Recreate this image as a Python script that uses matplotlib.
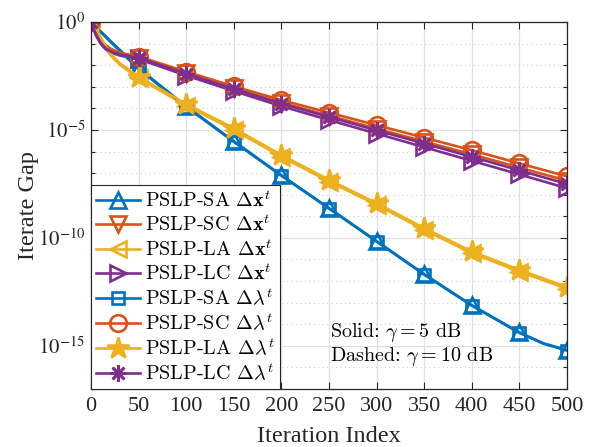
import numpy as np
import matplotlib
matplotlib.use("Agg")
import matplotlib.pyplot as plt
from matplotlib.font_manager import FontProperties
from matplotlib.ticker import FixedLocator, NullFormatter

plt.rcParams['font.family'] = ['Liberation Serif', 'DejaVu Serif']
plt.rcParams['mathtext.fontset'] = 'stix'

# ---------------- data (log10 of iterate gap) -------------
iters = [0, 5, 10, 15, 20, 30, 50, 100, 150, 200, 250, 300, 350, 400, 450, 475, 500]

SA_dx = [0, -0.21, -0.43, -0.64, -0.86, -1.28, -2.14, -3.90, -5.52, -7.10, -8.62, -10.15, -11.68, -13.12, -14.38, -14.88, -15.20]
SC_dx = [0, -0.50, -0.85, -1.10, -1.27, -1.47, -1.66, -2.38, -3.08, -3.74, -4.34, -4.94, -5.54, -6.13, -6.74, -7.05, -7.35]
LA_dx = [0, -0.30, -0.76, -1.17, -1.52, -1.97, -2.60, -3.88, -5.00, -6.24, -7.39, -8.47, -9.63, -10.71, -11.56, -11.96, -12.36]
LC_dx = [0, -0.60, -1.00, -1.25, -1.41, -1.55, -1.72, -2.48, -3.20, -3.90, -4.54, -5.17, -5.80, -6.43, -7.06, -7.38, -7.70]
SA_dl = [0, -0.23, -0.46, -0.68, -0.90, -1.33, -2.18, -3.93, -5.55, -7.12, -8.64, -10.17, -11.70, -13.14, -14.40, -14.90, -15.22]
SC_dl = [0, -0.45, -0.80, -1.05, -1.22, -1.42, -1.60, -2.30, -2.98, -3.62, -4.20, -4.78, -5.36, -5.94, -6.55, -6.85, -7.15]
LA_dl = [0, -0.25, -0.70, -1.10, -1.45, -1.90, -2.53, -3.80, -4.92, -6.16, -7.31, -8.39, -9.55, -10.63, -11.48, -11.88, -12.28]
LC_dl = [0, -0.55, -0.95, -1.20, -1.36, -1.50, -1.66, -2.40, -3.10, -3.78, -4.40, -5.02, -5.63, -6.25, -6.87, -7.19, -7.50]

labels = [r"PSLP-SA $\Delta\mathbf{x}^t$", r"PSLP-SC $\Delta\mathbf{x}^t$",
          r"PSLP-LA $\Delta\mathbf{x}^t$", r"PSLP-LC $\Delta\mathbf{x}^t$",
          r"PSLP-SA $\Delta\lambda^t$", r"PSLP-SC $\Delta\lambda^t$",
          r"PSLP-LA $\Delta\lambda^t$", r"PSLP-LC $\Delta\lambda^t$"]

xticks = [0, 50, 100, 150, 200, 250, 300, 350, 400, 450, 500]
yticks_exp = [0, -5, -10, -15]

# ---------------- style ----------------
C_BLUE = '#0072BD'
C_ORANGE = '#D95319'
C_YELLOW = '#EDB120'
C_PURPLE = '#7E2F8E'
AX_COL = '#262626'

series = [
    (SA_dx, C_BLUE, '^', 12, 'none'),
    (SC_dx, C_ORANGE, 'v', 12, 'none'),
    (LA_dx, C_YELLOW, '<', 12, 'none'),
    (LC_dx, C_PURPLE, '>', 12, 'none'),
    (SA_dl, C_BLUE, 's', 8, 'none'),
    (SC_dl, C_ORANGE, 'o', 12, 'none'),
    (LA_dl, C_YELLOW, '*', 16, C_YELLOW),
    (LC_dl, C_PURPLE, (8, 2, 0), 12, 'none'),
]

mark_idx = [i for i, it in enumerate(iters) if it % 50 == 0]

fig = plt.figure(figsize=(5.9, 4.47), dpi=100)
ax = fig.add_axes([0.1542, 0.1298, 0.8068, 0.821])

x = np.array(iters)
for (vals, col, mk, ms, fc), lab in zip(series, labels):
    ax.plot(x, np.power(10.0, np.array(vals)), color=col, lw=1.9,
            marker=mk, ms=ms, mfc=fc, mec=col, mew=1.9,
            markevery=mark_idx, label=lab)

ax.set_yscale('log')
ax.set_xlim(0, 500)
ax.set_ylim(1e-17, 1e0)
ax.xaxis.set_major_locator(FixedLocator(xticks))
ax.yaxis.set_major_locator(FixedLocator([10.0 ** e for e in yticks_exp]))
ax.set_yticklabels([r'$10^{%d}$' % e for e in yticks_exp])
ax.yaxis.set_minor_locator(FixedLocator([10.0 ** e for e in range(-17, 1)]))
ax.yaxis.set_minor_formatter(NullFormatter())

ax.grid(True, which='major', color='#e0e0e0', lw=0.9, ls='-')
ax.grid(True, which='minor', axis='y', color='#cfcfcf', lw=0.8, ls=(0, (1, 3)))
ax.set_axisbelow(True)

ax.tick_params(which='both', direction='in', top=True, right=True, colors=AX_COL)
ax.tick_params(axis='x', labelsize=16, pad=6)
ax.tick_params(axis='y', labelsize=15, pad=4)
ax.tick_params(which='major', length=5, width=0.8)
ax.tick_params(which='minor', length=3, width=0.8)
for s in ax.spines.values():
    s.set_color(AX_COL)
    s.set_linewidth(0.9)

ax.set_xlabel('Iteration Index', fontsize=17.5, color=AX_COL, labelpad=7)
ax.set_ylabel('Iterate Gap', fontsize=17.5, color=AX_COL, labelpad=-1)

cmfont = FontProperties(family='cmr10', size=14.5, math_fontfamily='cm')
leg = ax.legend(loc='lower left', bbox_to_anchor=(0, 0), borderaxespad=0,
                prop=cmfont, frameon=True, fancybox=False, framealpha=1,
                edgecolor=AX_COL, handlelength=2.2, handletextpad=0.25,
                labelspacing=0.18, borderpad=0.25, numpoints=1)
leg.get_frame().set_linewidth(0.8)

ax.text(0.502, 0.141, r"Solid: $\gamma = 5$ dB", transform=ax.transAxes,
        fontproperties=cmfont, va='baseline', ha='left', color='k')
ax.text(0.502, 0.075, r"Dashed: $\gamma = 10$ dB", transform=ax.transAxes,
        fontproperties=cmfont, va='baseline', ha='left', color='k')

fig.savefig('out.png', dpi=100)
